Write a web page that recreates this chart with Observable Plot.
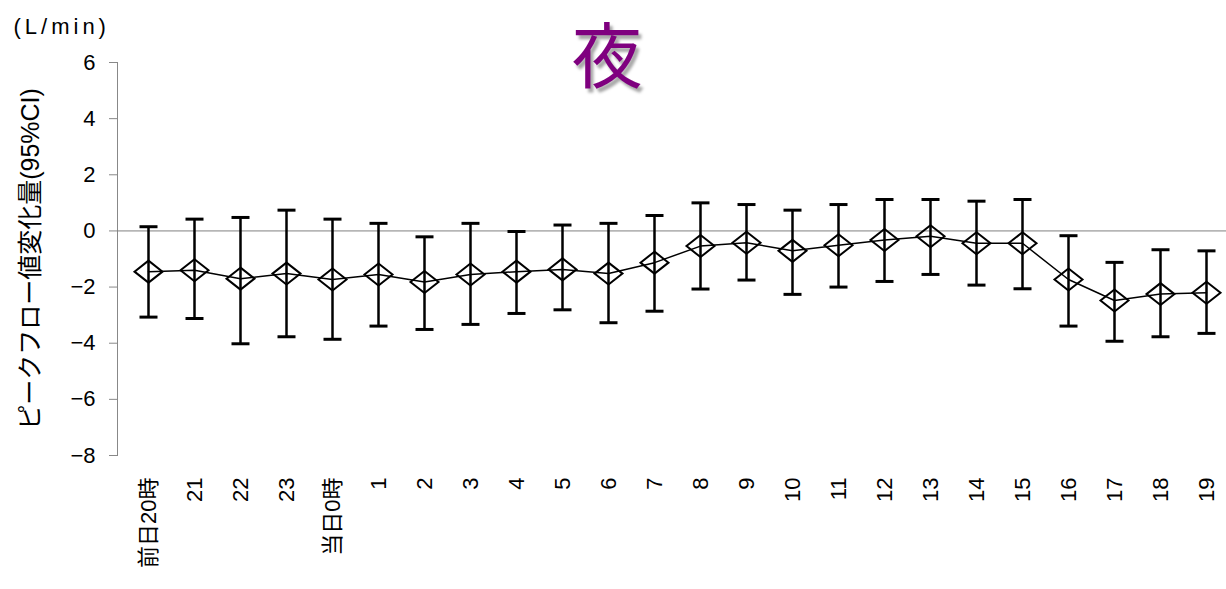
<!DOCTYPE html>
<html>
<head>
<meta charset="utf-8">
<script src="https://cdn.jsdelivr.net/npm/d3@7"></script>
<script src="https://cdn.jsdelivr.net/npm/@observablehq/plot@0.6"></script>
<style>
  html, body { margin: 0; padding: 0; background: #fff; }
  #wrap { position: relative; width: 1226px; height: 589px; }
  #title {
    position: absolute; left: 0; width: 1214px; top: 0; text-align: center;
    font-family: "Noto Sans CJK JP", sans-serif; font-size: 71px; line-height: normal;
    color: #7f007f; font-weight: 400; white-space: nowrap;
    text-shadow: 3px 4px 3px rgba(0,0,0,0.35);
  }
  svg { display: block; }
</style>
</head>
<body>
<div id="wrap">
  <div id="chart"></div>
  <div id="title">夜</div>
</div>
<script>
const hours = ["前日20時","21","22","23","当日0時","1","2","3","4","5","6","7","8","9","10","11","12","13","14","15","16","17","18","19"];
const meanValues = [-1.45,-1.40,-1.70,-1.52,-1.73,-1.55,-1.82,-1.55,-1.45,-1.37,-1.52,-1.13,-0.54,-0.42,-0.71,-0.51,-0.32,-0.19,-0.44,-0.44,-1.73,-2.48,-2.25,-2.20];
const lowerValues = [-3.07,-3.12,-4.02,-3.77,-3.86,-3.39,-3.51,-3.33,-2.94,-2.81,-3.27,-2.86,-2.07,-1.75,-2.26,-2.00,-1.80,-1.55,-1.93,-2.06,-3.39,-3.93,-3.77,-3.65];
const upperValues = [0.15,0.42,0.48,0.74,0.42,0.27,-0.21,0.27,-0.02,0.21,0.27,0.55,1.00,0.94,0.74,0.94,1.12,1.12,1.06,1.12,-0.17,-1.12,-0.67,-0.71];
const yTicks = [-8,-6,-4,-2,0,2,4,6];
const yLabel = "ピークフロー値変化量(95%CI)";
const unitLabel = "(L/min)";

const data = hours.map((h, i) => ({hour: h, mean: meanValues[i], lower: lowerValues[i], upper: upperValues[i]}));

const diamond = {
  draw(ctx) {
    ctx.moveTo(0, -11); ctx.lineTo(14, 0); ctx.lineTo(0, 11); ctx.lineTo(-14, 0); ctx.closePath();
  }
};
const cap = {
  draw(ctx) { ctx.moveTo(-9, 0); ctx.lineTo(9, 0); }
};

const chart = Plot.plot({
  width: 1226,
  height: 589,
  marginLeft: 117,
  marginTop: 62,
  marginBottom: 134,
  marginRight: 0,
  style: {fontFamily: "'Liberation Sans', 'Noto Sans CJK JP', sans-serif", color: "#000", background: "#fff"},
  x: {type: "point", domain: hours, range: [117, 1237]},
  y: {domain: [-8, 6]},
  marks: [
    Plot.frame({anchor: "left", stroke: "#888"}),
    Plot.ruleY([0], {stroke: "#808080", strokeWidth: 1}),
    Plot.axisY({ticks: yTicks, tickSize: 8, tickPadding: 14, fontSize: 22, stroke: "#888", fill: "#000", label: null}),
    Plot.axisX({tickSize: 0, tickRotate: -90, tickPadding: 22, fontSize: 22, fill: "#000", label: null}),
    Plot.ruleX(data, {x: "hour", y1: "lower", y2: "upper", stroke: "#000", strokeWidth: 2.5}),
    Plot.dot(data, {x: "hour", y: "lower", symbol: cap, stroke: "#000", fill: "none", strokeWidth: 3}),
    Plot.dot(data, {x: "hour", y: "upper", symbol: cap, stroke: "#000", fill: "none", strokeWidth: 3}),
    Plot.line(data, {x: "hour", y: "mean", stroke: "#000", strokeWidth: 1.5}),
    Plot.dot(data, {x: "hour", y: "mean", symbol: diamond, stroke: "#000", fill: "none", strokeWidth: 2}),
    Plot.text([yLabel], {frameAnchor: "left", dx: -87, rotate: -90, textAnchor: "middle", fontSize: 25, fill: "#000"}),
    Plot.text([unitLabel], {frameAnchor: "top-left", dx: -104, dy: -29, textAnchor: "start", lineAnchor: "bottom", fontSize: 22, fill: "#000"})
  ]
});
d3.select(chart).selectAll("text").filter(function() { return this.textContent === unitLabel; })
  .attr("letter-spacing", "4px");
document.getElementById("chart").appendChild(chart);
</script>
</body>
</html>
